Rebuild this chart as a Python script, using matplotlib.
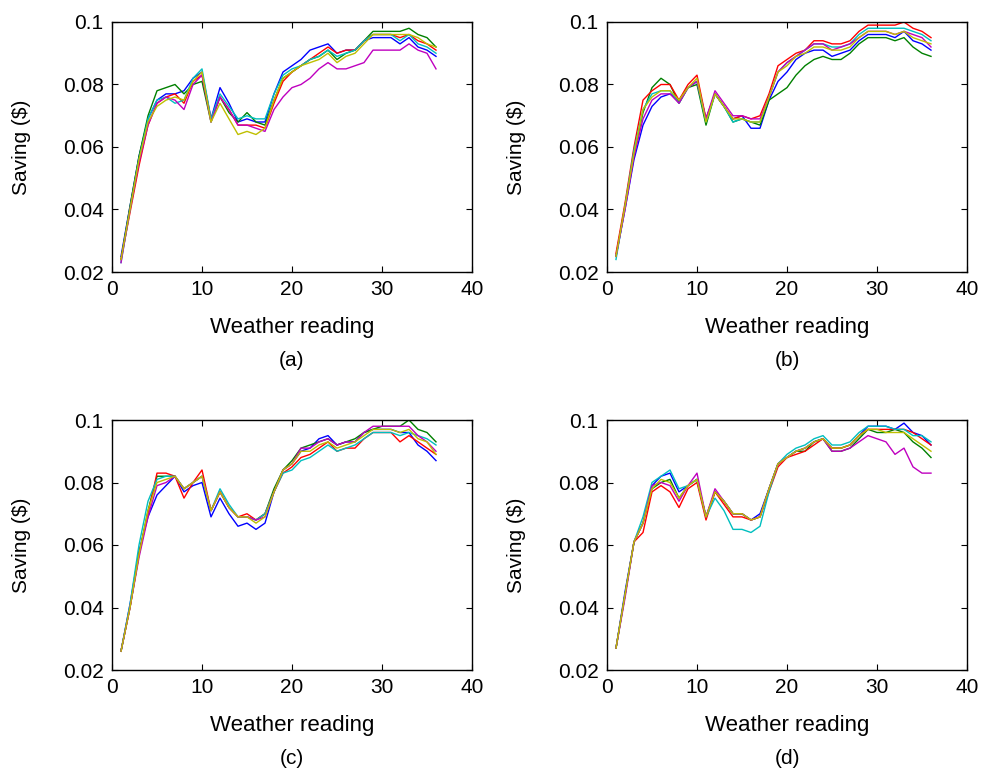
import numpy as np
import matplotlib
matplotlib.use('Agg')
import matplotlib.pyplot as plt
from matplotlib.ticker import FormatStrFormatter

readings = list(range(1, 37))

# panel (a)
a_blue = [.025, .041, .057, .069, .075, .077, .077, .078, .082, .084, .069, .079, .074, .068, .069, .068, .068, .077,
          .084, .086, .088, .091, .092, .093, .090, .091, .091, .094, .095, .095, .095, .093, .095, .092, .091, .089]
a_green = [.024, .041, .057, .070, .078, .079, .080, .077, .080, .081, .068, .076, .071, .068, .071, .068, .067, .075,
           .082, .084, .086, .088, .089, .091, .088, .090, .091, .094, .097, .097, .097, .097, .098, .096, .095, .092]
a_red = [.024, .039, .054, .067, .074, .076, .077, .074, .081, .083, .069, .076, .072, .067, .067, .067, .066, .074,
         .081, .084, .086, .088, .090, .092, .090, .091, .091, .094, .096, .096, .096, .095, .096, .094, .093, .091]
a_cyan = [.023, .040, .056, .069, .075, .076, .074, .075, .082, .085, .069, .077, .073, .069, .070, .069, .069, .077,
          .083, .085, .086, .088, .089, .091, .089, .090, .091, .094, .096, .096, .096, .094, .096, .093, .092, .090]
a_magenta = [.023, .040, .055, .067, .074, .076, .075, .072, .080, .083, .068, .076, .072, .067, .067, .066, .065, .072,
             .076, .079, .080, .082, .085, .087, .085, .085, .086, .087, .091, .091, .091, .091, .093, .091, .090, .085]
a_yellow = [.024, .040, .056, .068, .073, .075, .076, .075, .081, .084, .068, .074, .069, .064, .065, .064, .066, .075,
            .082, .084, .086, .087, .088, .090, .087, .089, .090, .093, .096, .096, .096, .096, .096, .095, .093, .092]

# panel (b)
b_blue = [.025, .040, .056, .067, .073, .076, .077, .075, .079, .081, .069, .077, .073, .069, .070, .066, .066, .075,
          .081, .084, .088, .090, .091, .091, .089, .090, .091, .094, .096, .096, .096, .095, .097, .094, .093, .091]
b_green = [.025, .041, .058, .071, .079, .082, .080, .074, .079, .080, .067, .077, .073, .068, .069, .068, .067, .075,
           .077, .079, .083, .086, .088, .089, .088, .088, .090, .093, .095, .095, .095, .094, .095, .092, .090, .089]
b_red = [.026, .042, .060, .075, .078, .080, .080, .075, .080, .083, .069, .077, .073, .069, .070, .069, .070, .077,
         .086, .088, .090, .091, .094, .094, .093, .093, .094, .097, .099, .099, .099, .099, .100, .098, .097, .095]
b_cyan = [.024, .041, .059, .072, .077, .078, .078, .074, .079, .081, .068, .077, .073, .068, .069, .068, .068, .076,
          .084, .087, .089, .091, .093, .093, .092, .092, .093, .096, .098, .098, .098, .098, .098, .097, .096, .094]
b_magenta = [.025, .040, .057, .069, .075, .077, .077, .074, .079, .081, .069, .078, .074, .070, .070, .069, .069, .076,
             .084, .087, .089, .091, .093, .093, .091, .092, .093, .095, .097, .097, .097, .096, .097, .096, .095, .092]
b_yellow = [.025, .041, .058, .072, .076, .078, .078, .075, .079, .082, .068, .077, .073, .069, .069, .068, .068, .076,
            .084, .086, .089, .090, .092, .092, .091, .091, .092, .095, .097, .097, .097, .096, .097, .095, .094, .093]

# panel (c)
c_blue = [.026, .041, .058, .069, .076, .079, .082, .077, .079, .080, .069, .075, .070, .066, .067, .065, .067, .077,
          .084, .086, .090, .091, .094, .095, .092, .093, .093, .096, .097, .097, .097, .096, .096, .092, .090, .087]
c_green = [.026, .040, .057, .071, .082, .082, .082, .078, .080, .082, .071, .077, .072, .069, .069, .068, .070, .078,
           .084, .087, .091, .092, .093, .094, .092, .093, .094, .096, .097, .098, .098, .098, .100, .097, .096, .093]
c_red = [.026, .040, .057, .070, .083, .083, .082, .075, .080, .084, .071, .077, .072, .069, .070, .068, .070, .077,
         .083, .085, .088, .089, .091, .093, .090, .091, .091, .094, .096, .096, .096, .093, .095, .093, .091, .089]
c_cyan = [.026, .041, .060, .074, .081, .082, .082, .078, .080, .082, .071, .078, .073, .069, .069, .068, .070, .077,
          .083, .084, .087, .088, .090, .092, .090, .091, .092, .094, .096, .096, .096, .095, .096, .095, .094, .092]
c_magenta = [.026, .040, .056, .069, .079, .080, .082, .078, .080, .082, .071, .077, .072, .069, .069, .068, .069, .077,
             .084, .086, .091, .091, .093, .094, .092, .093, .093, .096, .098, .098, .098, .098, .098, .095, .093, .090]
c_yellow = [.026, .040, .057, .071, .080, .081, .082, .078, .080, .082, .071, .077, .072, .069, .069, .067, .069, .077,
            .084, .086, .090, .090, .092, .093, .091, .092, .093, .095, .097, .097, .097, .096, .097, .094, .093, .089]

# panel (d)
d_blue = [.027, .045, .061, .067, .079, .082, .083, .077, .079, .081, .069, .077, .074, .070, .070, .068, .070, .078,
          .086, .088, .090, .091, .093, .094, .091, .091, .092, .095, .098, .098, .098, .097, .099, .096, .095, .092]
d_green = [.027, .044, .061, .067, .078, .080, .081, .075, .079, .081, .069, .077, .074, .070, .070, .068, .069, .078,
           .086, .088, .090, .090, .093, .094, .090, .090, .091, .094, .097, .096, .096, .097, .096, .093, .091, .088]
d_red = [.027, .044, .061, .064, .077, .079, .077, .072, .078, .080, .068, .077, .073, .069, .069, .068, .069, .077,
         .085, .088, .089, .090, .092, .094, .091, .091, .092, .095, .097, .097, .097, .097, .097, .096, .094, .092]
d_cyan = [.027, .044, .061, .069, .080, .082, .084, .078, .079, .081, .069, .075, .071, .065, .065, .064, .066, .077,
          .086, .089, .091, .092, .094, .095, .092, .092, .093, .096, .098, .098, .098, .097, .097, .095, .095, .093]
d_magenta = [.027, .043, .061, .067, .079, .080, .079, .074, .079, .083, .069, .078, .074, .070, .070, .068, .069, .078,
             .086, .088, .090, .091, .093, .094, .090, .090, .091, .093, .095, .094, .093, .089, .091, .085, .083, .083]
d_yellow = [.027, .044, .061, .067, .078, .081, .080, .075, .079, .081, .069, .077, .074, .070, .070, .068, .069, .078,
            .086, .088, .090, .091, .093, .094, .091, .091, .092, .095, .097, .097, .096, .096, .096, .094, .092, .090]

panels = [
    ('(a)', [a_blue, a_green, a_red, a_cyan, a_magenta, a_yellow]),
    ('(b)', [b_blue, b_green, b_red, b_cyan, b_magenta, b_yellow]),
    ('(c)', [c_blue, c_green, c_red, c_cyan, c_magenta, c_yellow]),
    ('(d)', [d_blue, d_green, d_red, d_cyan, d_magenta, d_yellow]),
]

# old matlab line colour order
line_colors = [(0, 0, 1), (0, 0.5, 0), (1, 0, 0), (0, 0.75, 0.75), (0.75, 0, 0.75), (0.75, 0.75, 0)]

plt.rcParams['font.family'] = ['Liberation Sans', 'DejaVu Sans']

W, H = 985, 776
fig = plt.figure(figsize=(W / 100, H / 100), dpi=100)

# axes boxes in pixels: left, top
boxes = [(112, 22), (607, 22), (112, 420), (607, 420)]
aw, ah = 360, 250

for (label, series), (left, top) in zip(panels, boxes):
    ax = fig.add_axes([left / W, 1 - (top + ah) / H, aw / W, ah / H])
    for vals, col in zip(series, line_colors):
        ax.plot(readings, vals, color=col, linewidth=1.0)
    ax.set_xlim(0, 40)
    ax.set_ylim(0.02, 0.1)
    ax.set_xticks([0, 10, 20, 30, 40])
    ax.set_yticks([0.02, 0.04, 0.06, 0.08, 0.1])
    ax.yaxis.set_major_formatter(FormatStrFormatter('%g'))
    ax.tick_params(direction='in', length=4, width=0.8, labelsize=15,
                   top=True, right=True, pad=6)
    for sp in ax.spines.values():
        sp.set_linewidth(1.0)
    ax.set_ylabel('Saving ($)', fontsize=15)
    ax.yaxis.set_label_coords(-0.225, 0.5)
    ax.text(0.5, -0.22, 'Weather reading', transform=ax.transAxes,
            ha='center', va='center', fontsize=16)
    ax.text(0.5, -0.352, label, transform=ax.transAxes,
            ha='center', va='center', fontsize=15)

fig.savefig('out.png', dpi=100)
